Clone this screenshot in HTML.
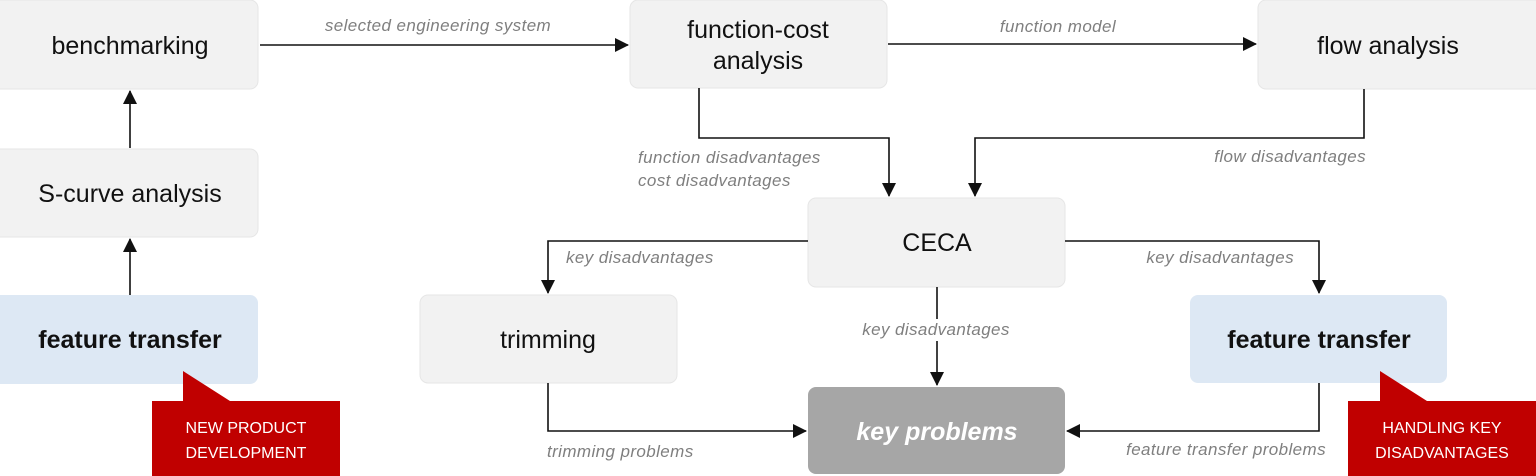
<!DOCTYPE html>
<html><head><meta charset="utf-8"><style>
html,body{margin:0;padding:0;background:#fff;}
svg{display:block;font-family:"Liberation Sans",sans-serif;}
.b{fill:#f2f2f2;stroke:#e6e6e6;stroke-width:1;}
.t{font-size:25px;fill:#111;text-anchor:middle;}
.l{font-size:17px;fill:#7f7f7f;font-style:italic;letter-spacing:0.4px;}
.c{stroke:#111;stroke-width:1.6;fill:none;}
</style></head><body>
<svg width="1536" height="476" viewBox="0 0 1536 476">
<defs>
<marker id="m" markerWidth="14" markerHeight="14" refX="13" refY="7" orient="auto" markerUnits="userSpaceOnUse" viewBox="0 0 14 14"><path d="M0,0 L14,7 L0,14 z" fill="#111"/></marker></defs>

<rect class="b" x="-8" y="0" width="266" height="89" rx="8"/>
<text class="t" x="130" y="54">benchmarking</text>
<rect class="b" x="-8" y="149" width="266" height="88" rx="8"/>
<text class="t" x="130" y="202">S-curve analysis</text>
<rect x="-8" y="295" width="266" height="89" rx="8" fill="#dde8f4"/>
<text class="t" x="130" y="348" font-weight="bold">feature transfer</text>

<rect class="b" x="630" y="0" width="257" height="88" rx="8"/>
<text class="t" x="758" y="38">function-cost</text>
<text class="t" x="758" y="69">analysis</text>
<rect class="b" x="1258" y="0" width="290" height="89" rx="8"/>
<text class="t" x="1388" y="54">flow analysis</text>
<rect class="b" x="808" y="198" width="257" height="89" rx="8"/>
<text class="t" x="937" y="251">CECA</text>
<rect class="b" x="420" y="295" width="257" height="88" rx="8"/>
<text class="t" x="548" y="348">trimming</text>
<rect x="1190" y="295" width="257" height="88" rx="8" fill="#dde8f4"/>
<text class="t" x="1319" y="348" font-weight="bold">feature transfer</text>
<rect x="808" y="387" width="257" height="87" rx="8" fill="#a6a6a6"/>
<text class="t" x="937" y="440" font-weight="bold" font-style="italic" style="fill:#fff">key problems</text>

<path d="M152,401 H183 V371 L230,401 H340 V476 H152 Z" fill="#c00000"/>
<text x="246" y="433" font-size="16" fill="#fff" text-anchor="middle">NEW PRODUCT</text>
<text x="246" y="458" font-size="16" fill="#fff" text-anchor="middle">DEVELOPMENT</text>
<path d="M1348,401 H1380 V371 L1427,401 H1536 V476 H1348 Z" fill="#c00000"/>
<text x="1442" y="433" font-size="16" fill="#fff" text-anchor="middle">HANDLING KEY</text>
<text x="1442" y="458" font-size="16" fill="#fff" text-anchor="middle">DISADVANTAGES</text>

<path class="c" d="M260,45 H628" marker-end="url(#m)"/>
<text class="l" x="438" y="31" text-anchor="middle">selected engineering system</text>
<path class="c" d="M888,44 H1256" marker-end="url(#m)"/>
<text class="l" x="1058" y="32" text-anchor="middle">function model</text>
<path class="c" d="M130,148 V91" marker-end="url(#m)"/>
<path class="c" d="M130,295 V239" marker-end="url(#m)"/>
<path class="c" d="M699,88 V138 H889 V196" marker-end="url(#m)"/>
<path class="c" d="M1364,89 V138 H975 V196" marker-end="url(#m)"/>
<text class="l" x="638" y="163">function disadvantages</text>
<text class="l" x="638" y="186">cost disadvantages</text>
<text class="l" x="1366" y="162" text-anchor="end">flow disadvantages</text>
<path class="c" d="M808,241 H548 V293" marker-end="url(#m)"/>
<text class="l" x="566" y="263">key disadvantages</text>
<path class="c" d="M1065,241 H1319 V293" marker-end="url(#m)"/>
<text class="l" x="1294" y="263" text-anchor="end">key disadvantages</text>
<path class="c" d="M937,287 V385" marker-end="url(#m)"/>
<rect x="858" y="319" width="158" height="22" fill="#fff"/>
<text class="l" x="936" y="335" text-anchor="middle">key disadvantages</text>
<path class="c" d="M548,383 V431 H806" marker-end="url(#m)"/>
<text class="l" x="547" y="457">trimming problems</text>
<path class="c" d="M1319,383 V431 H1067" marker-end="url(#m)"/>
<text class="l" x="1326" y="455" text-anchor="end">feature transfer problems</text>
</svg>
</body></html>
